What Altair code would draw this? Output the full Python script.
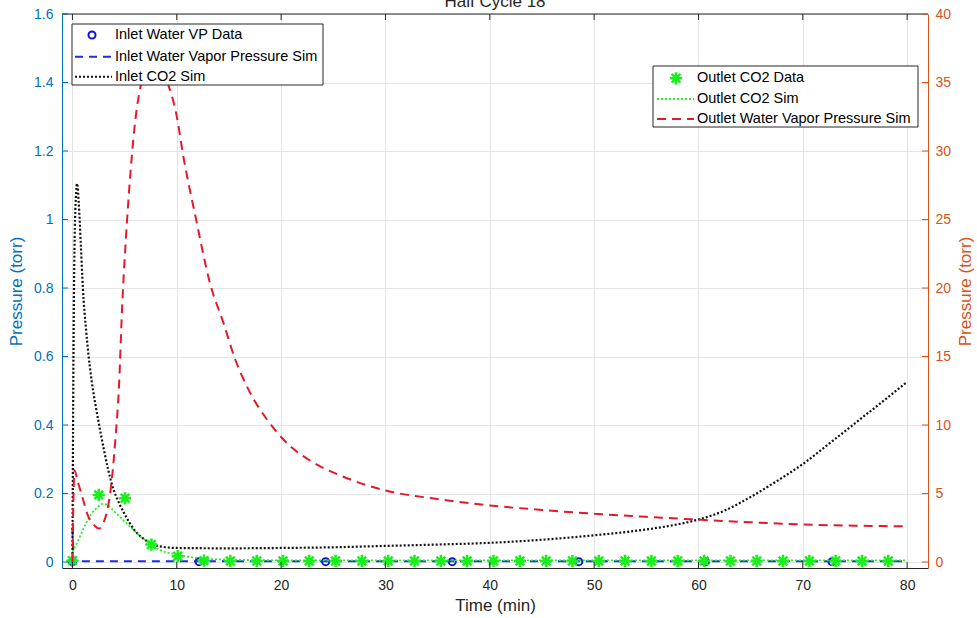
import altair as alt
import pandas as pd

# ---------------- data ----------------
# Inlet Water VP Data (left axis, torr)
inlet_vp_t = [0, 12.13, 24.27, 36.4, 48.53, 60.67, 72.8]
inlet_vp_v = [0.001, 0.001, 0.001, 0.001, 0.001, 0.001, 0.001]

# Inlet Water Vapor Pressure Sim (left axis)
inlet_vps_t = [0, 0.1, 10, 20, 40, 60, 80]
inlet_vps_v = [0.1, 0.002, 0.002, 0.002, 0.002, 0.002, 0.002]

# Inlet CO2 Sim (left axis)
inlet_co2_t = [0, 0.1, 0.25, 0.45, 0.6, 0.8, 1.0, 1.3, 1.75, 2.2, 2.5, 3.0, 3.8, 4.5, 5.0,
               5.9, 6.8, 7.5, 8.5, 10, 15, 20, 25, 30, 35, 40, 45, 50, 55, 58, 60, 62.5,
               65, 67.5, 70, 72.5, 75, 77.5, 80]
inlet_co2_v = [0.0, 0.6, 1.0, 1.105, 1.05, 0.93, 0.8, 0.68, 0.55, 0.46, 0.41, 0.33, 0.225,
               0.17, 0.14, 0.095, 0.068, 0.054, 0.045, 0.041, 0.04, 0.041, 0.043, 0.047,
               0.051, 0.056, 0.065, 0.078, 0.095, 0.11, 0.124, 0.15, 0.19, 0.236, 0.286,
               0.345, 0.405, 0.465, 0.526]

# Outlet CO2 Data (left axis)
outlet_co2_data_t = [0, 2.52, 5.04, 7.57, 10.09, 12.61, 15.13, 17.66, 20.18, 22.7, 25.22,
                     27.74, 30.27, 32.79, 35.31, 37.83, 40.36, 42.88, 45.4, 47.92, 50.45,
                     52.97, 55.49, 58.01, 60.54, 63.06, 65.58, 68.1, 70.63, 73.15, 75.67, 78.19]
outlet_co2_data_v = [0.004, 0.196, 0.186, 0.051, 0.017, 0.004, 0.003, 0.003, 0.003, 0.003,
                     0.003, 0.003, 0.003, 0.003, 0.003, 0.003, 0.003, 0.003, 0.003, 0.003,
                     0.003, 0.003, 0.003, 0.003, 0.003, 0.003, 0.003, 0.003, 0.003, 0.003,
                     0.003, 0.003]

# Outlet CO2 Sim (left axis)
outlet_co2_sim_t = [0, 0.5, 1.1, 1.8, 2.4, 2.9, 3.4, 4.0, 4.9, 5.9, 6.5, 7.2, 8.45, 10, 11,
                    12.5, 15, 20, 30, 40, 50, 60, 70, 80]
outlet_co2_sim_v = [0.03, 0.06, 0.10, 0.14, 0.16, 0.17, 0.165, 0.148, 0.121, 0.092, 0.075,
                    0.058, 0.034, 0.022, 0.016, 0.01, 0.007, 0.005, 0.005, 0.005, 0.005,
                    0.005, 0.005, 0.005]

# Outlet Water Vapor Pressure Sim (right axis, torr)
outlet_wvp_t = [0, 0.08, 0.2, 0.5, 1.0, 1.43, 2.0, 2.55, 3.0, 3.4, 3.7, 4.1, 4.46, 4.78, 5.1,
                5.58, 6.05, 6.5, 7.0, 7.7, 8.4, 9.15, 9.9, 10.7, 11.8, 13.2, 14.5, 15.5, 17.0,
                18.7, 20.6, 23.0, 25.7, 30, 35, 40, 45, 50, 55, 60, 65, 70, 75, 80]
outlet_wvp_v = [0, 4.0, 6.7, 5.9, 4.6, 3.5, 2.75, 2.44, 2.9, 4.0, 5.5, 8.8, 12.8, 18.9, 23.3,
                28.6, 32.4, 34.6, 35.9, 36.6, 36.2, 34.9, 32.9, 29.3, 25.2, 20.3, 17.4, 15.0,
                12.4, 10.35, 8.65, 7.3, 6.31, 5.22, 4.6, 4.13, 3.8, 3.52, 3.3, 3.09, 2.9,
                2.74, 2.65, 2.6]

x_ticks = [0, 10, 20, 30, 40, 50, 60, 70, 80]
left_ticks = [0, 0.2, 0.4, 0.6, 0.8, 1, 1.2, 1.4, 1.6]
right_ticks = [0, 5, 10, 15, 20, 25, 30, 35, 40]

# ---------------- style ----------------
W, H = 866, 554
FONT = "Liberation Sans"
DARK = "#262626"
BLUE_AX = "#0072BD"
ORANGE_AX = "#D95319"
GRID = "#e2e4e8"
C_CIRC = "#0a14d0"
C_BLUE = "#1a30e0"
C_BLACK = "#111111"
C_GSIM = "#2ee82e"
C_STAR = "#19f019"
C_RED = "#e21a2a"
STAR = "M-1,0L1,0M0,-1L0,1M-0.71,-0.71L0.71,0.71M-0.71,0.71L0.71,-0.71"

xscale = alt.Scale(domain=[-1, 82], nice=False, zero=False)
lscale = alt.Scale(domain=[-0.0175, 1.6], nice=False, zero=False)
rscale = alt.Scale(domain=[-0.4375, 40], nice=False, zero=False)

xaxis = alt.Axis(title="Time (min)", values=x_ticks, grid=True, gridColor=GRID, ticks=False,
                 tickSize=0, labelPadding=10, labelFontSize=14, labelColor=DARK,
                 titleFontSize=17, titleFontWeight="normal", titleColor=DARK, titlePadding=5,
                 domainColor=DARK, domainWidth=1)
laxis = alt.Axis(title="Pressure (torr)", values=left_ticks, format="~g", grid=True,
                 gridColor=GRID, ticks=False, tickSize=0, labelPadding=9, labelFontSize=14,
                 labelColor=BLUE_AX, titleFontSize=17, titleFontWeight="normal",
                 titleColor=BLUE_AX, titlePadding=8, domainColor=BLUE_AX, orient="left")
raxis = alt.Axis(title="Pressure (torr)", values=right_ticks, format="~g", grid=False,
                 ticks=False, tickSize=0, labelPadding=7, labelFontSize=14,
                 labelColor=ORANGE_AX, titleFontSize=17, titleFontWeight="normal",
                 titleColor=ORANGE_AX, titleAngle=270, titleX=37, titleY=H / 2,
                 titleAlign="center", titleBaseline="middle",
                 domainColor=ORANGE_AX, orient="right")

X = alt.X("t:Q", scale=xscale, axis=xaxis)
YL = alt.Y("v:Q", scale=lscale, axis=laxis)
YR = alt.Y("v:Q", scale=rscale, axis=raxis)


def df(t, v):
    return pd.DataFrame({"t": t, "v": v})


one = pd.DataFrame({"a": [0]})

circles = alt.Chart(df(inlet_vp_t, inlet_vp_v)).mark_point(
    shape="circle", filled=False, color=C_CIRC, strokeWidth=2, size=50, opacity=1
).encode(x=X, y=YL)

blue_line = alt.Chart(df(inlet_vps_t, inlet_vps_v)).mark_line(
    color=C_BLUE, strokeWidth=2, strokeDash=[8, 6]
).encode(x=X, y=YL)

black_line = alt.Chart(df(inlet_co2_t, inlet_co2_v)).mark_line(
    color=C_BLACK, strokeWidth=2.2, strokeDash=[2, 2], interpolate="monotone"
).encode(x=X, y=YL)

green_line = alt.Chart(df(outlet_co2_sim_t, outlet_co2_sim_v)).mark_line(
    color=C_GSIM, strokeWidth=1.8, strokeDash=[2, 2], interpolate="monotone"
).encode(x=X, y=YL)

stars = alt.Chart(df(outlet_co2_data_t, outlet_co2_data_v)).mark_point(
    shape=STAR, filled=False, color=C_STAR, strokeWidth=2.5, size=150, opacity=1
).encode(x=X, y=YL)

left_tick_marks = alt.Chart(pd.DataFrame({"v": left_ticks})).mark_rule(
    color=BLUE_AX, strokeWidth=1
).encode(y=YL, x=alt.value(0), x2=alt.value(6))

bottom_ticks = alt.Chart(pd.DataFrame({"t": x_ticks})).mark_rule(
    color=DARK, strokeWidth=1
).encode(x=X, y=alt.value(H), y2=alt.value(H - 6))

top_ticks = alt.Chart(pd.DataFrame({"t": x_ticks})).mark_rule(
    color=DARK, strokeWidth=1
).encode(x=X, y=alt.value(0), y2=alt.value(6))

top_frame = alt.Chart(one).mark_rule(color=DARK, strokeWidth=1).encode(
    x=alt.value(0), x2=alt.value(W), y=alt.value(0)
)

title = alt.Chart(one).mark_text(
    fontSize=17, font=FONT, color=DARK, align="center", baseline="alphabetic"
).encode(x=alt.value(W / 2), y=alt.value(-7), text=alt.value("Half Cycle 18"))

left = alt.layer(circles, blue_line, black_line, green_line, stars,
                 left_tick_marks, bottom_ticks, top_ticks, top_frame, title)

red_line = alt.Chart(df(outlet_wvp_t, outlet_wvp_v)).mark_line(
    color=C_RED, strokeWidth=2, strokeDash=[9, 6], interpolate="monotone"
).encode(x=X, y=YR)

right_tick_marks = alt.Chart(pd.DataFrame({"v": right_ticks})).mark_rule(
    color=ORANGE_AX, strokeWidth=1
).encode(y=YR, x=alt.value(W - 6), x2=alt.value(W))


# ---------------- legends ----------------
def box(x1, x2, y1, y2):
    return alt.Chart(one).mark_rect(fill="white", stroke=DARK, strokeWidth=1).encode(
        x=alt.value(x1), x2=alt.value(x2), y=alt.value(y1), y2=alt.value(y2))


def label(x, y, s):
    return alt.Chart(one).mark_text(
        align="left", baseline="middle", fontSize=14.5, font=FONT, color="#000000"
    ).encode(x=alt.value(x), y=alt.value(y), text=alt.value(s))


def seg(x1, x2, y, color, dash, width):
    return alt.Chart(one).mark_rule(color=color, strokeDash=dash, strokeWidth=width).encode(
        x=alt.value(x1), x2=alt.value(x2), y=alt.value(y))


leg_left = [
    box(10, 261, 10, 71),
    alt.Chart(one).mark_point(shape="circle", filled=False, color=C_CIRC, strokeWidth=2,
                              size=50, opacity=1).encode(x=alt.value(30), y=alt.value(21)),
    label(53, 21, "Inlet Water VP Data"),
    seg(13, 50, 42.7, C_BLUE, [8, 6], 2),
    label(53, 42.7, "Inlet Water Vapor Pressure Sim"),
    seg(13, 50, 62.7, C_BLACK, [2, 2], 2),
    label(53, 62.7, "Inlet CO2 Sim"),
]
leg_right = [
    box(591, 856, 52, 113),
    alt.Chart(one).mark_point(shape=STAR, filled=False, color=C_STAR, strokeWidth=2.5,
                              size=150, opacity=1).encode(x=alt.value(614), y=alt.value(64.3)),
    label(635, 64.3, "Outlet CO2 Data"),
    seg(595, 632, 85, C_GSIM, [2, 2], 1.8),
    label(635, 85, "Outlet CO2 Sim"),
    seg(595, 632, 105, C_RED, [9, 6], 2),
    label(635, 105, "Outlet Water Vapor Pressure Sim"),
]

right = alt.layer(red_line, right_tick_marks, *leg_left, *leg_right)

chart = alt.layer(left, right).resolve_scale(y="independent").properties(
    width=W, height=H,
    padding={"left": 62, "top": 14, "right": 49, "bottom": 50},
    autosize=alt.AutoSizeParams(type="none"),
    background="white",
).configure(font=FONT).configure_view(strokeWidth=0)

chart.save("out.html", embed_options={"renderer": "svg", "actions": False})
